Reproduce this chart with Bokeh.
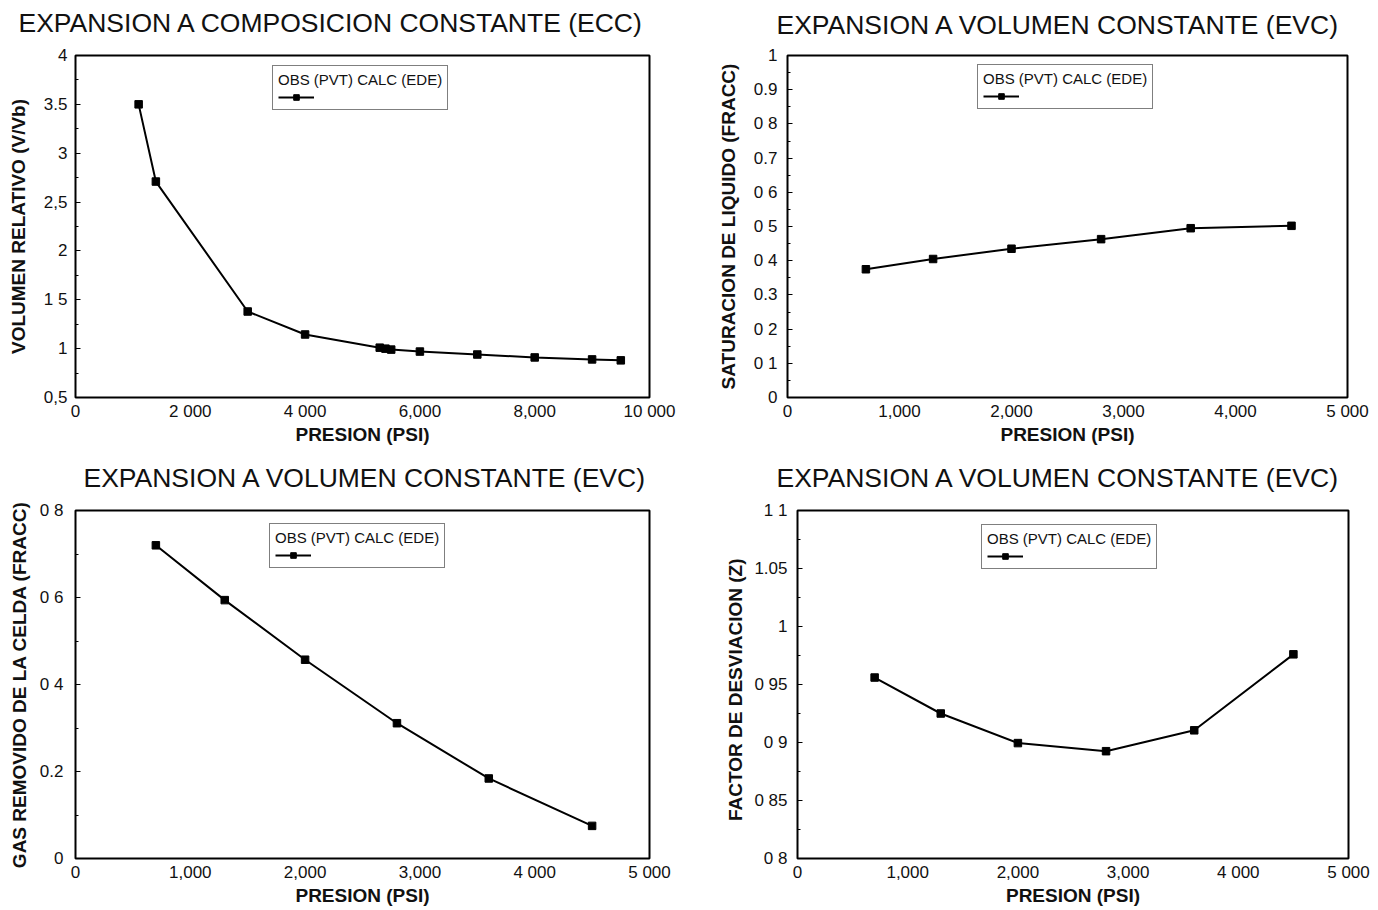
from bokeh.plotting import figure
from bokeh.models import Range1d, Legend, LegendItem, FixedTicker, Title
from bokeh.layouts import column, row
from bokeh.embed import file_html
from bokeh.resources import INLINE

# ---------------- data ----------------
ecc_p = [1100, 1400, 3000, 4000, 5300, 5400, 5500, 6000, 7000, 8000, 9000, 9500]
ecc_v = [3.50, 2.71, 1.38, 1.145, 1.01, 1.00, 0.99, 0.97, 0.94, 0.91, 0.89, 0.88]

evc_p = [700, 1300, 2000, 2800, 3600, 4500]
sat_liq = [0.375, 0.405, 0.435, 0.463, 0.495, 0.502]
gas_rem = [0.72, 0.594, 0.457, 0.311, 0.184, 0.075]
z_fac = [0.956, 0.925, 0.8995, 0.8925, 0.9105, 0.976]

x1_ticks = [0, 2000, 4000, 6000, 8000, 10000]
x1_labels = ["0", "2 000", "4 000", "6,000", "8,000", "10 000"]
x2_ticks = [0, 1000, 2000, 3000, 4000, 5000]
x2_labels = ["0", "1,000", "2,000", "3,000", "4,000", "5 000"]
x3_labels = ["0", "1,000", "2,000", "3,000", "4 000", "5 000"]

y1_ticks = [0.5, 1, 1.5, 2, 2.5, 3, 3.5, 4]
y1_labels = ["0,5", "1", "1 5", "2", "2,5", "3", "3.5", "4"]
y2_ticks = [0, 0.1, 0.2, 0.3, 0.4, 0.5, 0.6, 0.7, 0.8, 0.9, 1]
y2_labels = ["0", "0 1", "0 2", "0.3", "0 4", "0 5", "0 6", "0.7", "0 8", "0.9", "1"]
y3_ticks = [0, 0.2, 0.4, 0.6, 0.8]
y3_labels = ["0", "0.2", "0 4", "0 6", "0 8"]
y4_ticks = [0.8, 0.85, 0.9, 0.95, 1.0, 1.05, 1.1]
y4_labels = ["0 8", "0 85", "0 9", "0 95", "1", "1.05", "1 1"]

titles = ["EXPANSION A COMPOSICION CONSTANTE (ECC)",
          "EXPANSION A VOLUMEN CONSTANTE (EVC)",
          "EXPANSION A VOLUMEN CONSTANTE (EVC)",
          "EXPANSION A VOLUMEN CONSTANTE (EVC)"]
ylabels = ["VOLUMEN RELATIVO (V/Vb)", "SATURACION DE LIQUIDO (FRACC)",
           "GAS REMOVIDO DE LA CELDA (FRACC)", "FACTOR DE DESVIACION   (Z)"]
xlabel = "PRESION (PSI)"
legend_title = "OBS (PVT) CALC (EDE)"

FONT = "Liberation Sans"
W, H = 688, 454


def make(title, ylab, xs, ys, xr, yr, xt, xl, yt, yl, borders, toff, tstand, gap,
         ytick_st, ylab_st, lloc):
    left, right, top, bottom = borders
    p = figure(width=W, height=H, output_backend="svg", toolbar_location=None,
               x_range=Range1d(*xr), y_range=Range1d(*yr),
               min_border_left=left, min_border_right=right,
               min_border_top=top, min_border_bottom=bottom)
    p.grid.visible = False
    p.outline_line_color = "black"
    p.outline_line_width = 2
    p.background_fill_color = "white"

    # spacer between frame and title, then the title itself
    p.add_layout(Title(text=" ", text_font_size="1px", standoff=gap), "above")
    p.add_layout(Title(text=title, text_font=FONT, text_font_size="26.5px",
                       text_font_style="normal", text_color="#111111",
                       align="left", offset=toff, standoff=tstand), "above")

    for ax in (p.xaxis[0], p.yaxis[0]):
        ax.axis_line_color = None
        ax.major_label_text_font = FONT
        ax.major_label_text_font_size = "17px"
        ax.major_label_text_color = "#111111"
        ax.axis_label_text_font = FONT
        ax.axis_label_text_font_size = "19px"
        ax.axis_label_text_font_style = "bold"
        ax.axis_label_text_color = "#111111"
        ax.major_tick_out = 0
        ax.minor_tick_out = 0
        ax.major_tick_line_color = "black"
        ax.minor_tick_line_color = "black"

    p.xaxis.axis_label = xlabel
    p.xaxis.ticker = FixedTicker(ticks=xt)
    p.xaxis.major_label_overrides = dict(zip(xt, xl))
    p.xaxis.major_tick_in = 0
    p.xaxis.minor_tick_in = 0
    p.xaxis.major_label_standoff = 4
    p.xaxis.axis_label_standoff = 0

    p.yaxis.axis_label = ylab
    minor = []
    for a, b in zip(yt[:-1], yt[1:]):
        minor.append((a + b) / 2)
    p.yaxis.ticker = FixedTicker(ticks=yt, minor_ticks=minor)
    p.yaxis.major_label_overrides = dict(zip(yt, yl))
    p.yaxis.major_tick_in = 5
    p.yaxis.minor_tick_in = 3
    p.yaxis.major_label_standoff = ytick_st
    p.yaxis.axis_label_standoff = ylab_st

    ln = p.line(xs, ys, line_color="black", line_width=2)
    sc = p.scatter(xs, ys, marker="square", size=7.5, fill_color="black", line_color="black")

    leg = Legend(items=[LegendItem(label=" ", renderers=[ln, sc])],
                 title=legend_title, location=lloc)
    leg.title_text_font = FONT
    leg.title_text_font_size = "15px"
    leg.title_text_font_style = "normal"
    leg.title_text_color = "#111111"
    leg.title_standoff = 2
    leg.label_text_font_size = "10px"
    leg.border_line_color = "black"
    leg.border_line_width = 1.5
    leg.background_fill_alpha = 1.0
    leg.padding = 5
    leg.margin = 0
    leg.spacing = 0
    leg.glyph_width = 36
    leg.glyph_height = 14
    leg.label_standoff = 0
    leg.label_width = 10
    p.add_layout(leg)
    return p


p1 = make(titles[0], ylabels[0], ecc_p, ecc_v, (0, 10000), (0.5, 4),
          x1_ticks, x1_labels, y1_ticks, y1_labels,
          (75, 39, 55, 57), -57, 8, 11, 8, 12, (197, 287))
p2 = make(titles[1], ylabels[1], evc_p, sat_liq, (0, 5000), (0, 1),
          x2_ticks, x2_labels, y2_ticks, y2_labels,
          (99, 29, 53, 56), -11, 8, 9, 10, 12, (190, 288))
p3 = make(titles[2], ylabels[2], evc_p, gas_rem, (0, 5000), (0, 0.8),
          x2_ticks, x3_labels, y3_ticks, y3_labels,
          (75, 39, 56, 50), 8, 10, 10, 12, 7, (194, 290))
p4 = make(titles[3], ylabels[3], evc_p, z_fac, (0, 5000), (0.8, 1.1),
          x2_ticks, x3_labels, y4_ticks, y4_labels,
          (109, 28, 56, 50), -21, 10, 10, 10, 5, (184, 289))

layout = column(row(p1, p2), row(p3, p4))
open("out.html", "w").write(file_html(layout, INLINE))
